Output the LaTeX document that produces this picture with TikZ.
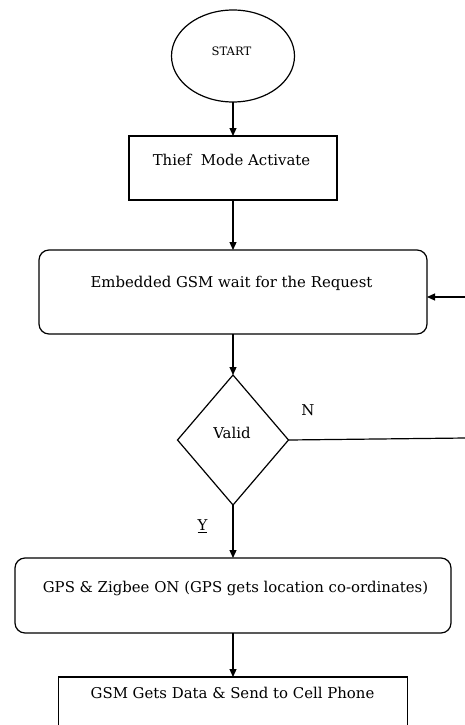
\documentclass[tikz,border=0pt]{standalone}
\usepackage{fontspec}
\setmainfont{DejaVu Serif}
\usetikzlibrary{shapes.geometric,arrows.meta}
\begin{document}
\begin{tikzpicture}[x=1pt,y=-1pt,
  line width=1.2pt,
  every node/.style={inner sep=0pt, outer sep=0pt},
  boxshape/.style={draw, rectangle, minimum width=#1},
  roundshape/.style={draw, rectangle, rounded corners=10pt, minimum width=#1},
  lbl/.style={font=\fontsize{14.9}{17}\selectfont, anchor=center},
  arr/.style={-{Triangle[length=8pt,width=7pt]}}
]
\useasboundingbox (0,0) rectangle (465,725);
% start
\node[draw, ellipse, minimum width=123, minimum height=92] (start) at (233,56) {};
\node[font=\fontsize{11.6}{13}\selectfont] (starttxt) at (231.5,51) {START};
% thief
\node[boxshape=208, minimum height=64] (thief) at (233,168) {};
\node[lbl] (thieftxt) at (231.5,160) {Thief\ \ Mode Activate};
% embedded
\node[roundshape=388, minimum height=84] (emb) at (233,292) {};
\node[lbl] (embtxt) at (231.5,283) {Embedded GSM wait for the Request};
% diamond
\node[draw, diamond, minimum width=111, minimum height=130] (valid) at (233,440) {};
\node[lbl] (validtxt) at (232,433) {Valid};
\node[lbl] (ntxt) at (308,410) {N};
\node[lbl] (ytxt) at (202.5,526) {\underline{Y}};
% gps
\node[roundshape=436, minimum height=75] (gps) at (233,595.5) {};
\node[lbl] (gpstxt) at (235.5,588) {GPS \& Zigbee ON (GPS gets location co-ordinates)};
% gsm
\node[boxshape=349, minimum height=90] (gsm) at (233,722) {};
\node[lbl] (gsmtxt) at (232.5,693) {GSM Gets Data \& Send to Cell Phone};
% loop coordinates
\coordinate (fbin) at (466,297);
\coordinate (nout) at (466,438);
% connectors
\draw[arr] (start) -- (thief);
\draw[arr] (thief) -- (emb);
\draw[arr] (emb) -- (valid);
\draw[arr] (valid) -- (gps);
\draw[arr] (gps) -- (gsm);
\draw (valid.east) -- (nout);
\draw[arr] (fbin) -- (emb.east |- fbin);
\end{tikzpicture}
\end{document}
